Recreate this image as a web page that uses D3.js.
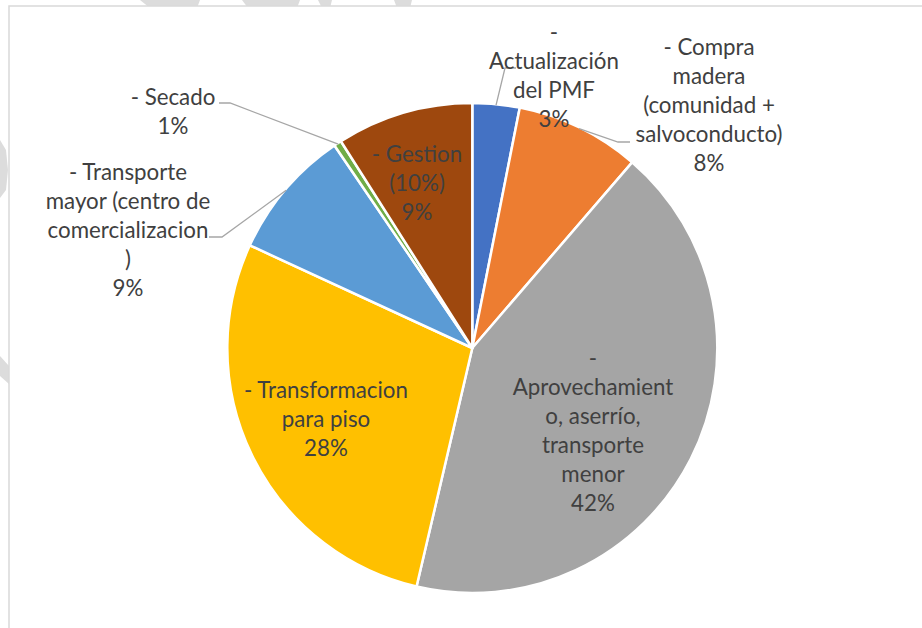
<!DOCTYPE html>
<html><head><meta charset="utf-8">
<script src="https://cdn.jsdelivr.net/npm/d3@7"></script>
<style>body{margin:0;background:#fff;} svg{display:block;}</style>
</head><body>
<svg id="c" width="922" height="628"></svg>
<script>
// ---- data ----
const categories = [
  "- Actualización del PMF",
  "- Compra madera (comunidad + salvoconducto)",
  "- Aprovechamiento, aserrío, transporte menor",
  "- Transformacion para piso",
  "- Transporte mayor (centro de comercializacion)",
  "- Secado",
  "- Gestion (10%)"
];
const values = [3.1, 8.2, 42.3, 28.2, 8.6, 0.5, 9.0];
const labelLines = [
  ["-", "Actualización", "del PMF"],
  ["- Compra", "madera", "(comunidad +", "salvoconducto)"],
  ["-", "Aprovechamient", "o, aserrío,", "transporte", "menor"],
  ["- Transformacion", "para piso"],
  ["- Transporte", "mayor (centro de", "comercializacion", ")"],
  ["- Secado"],
  ["- Gestion", "(10%)"]
];
const colors = ["#4472C4","#ED7D31","#A5A5A5","#FFC000","#5B9BD5","#70AD47","#9E480E"];

// ---- layout ----
const W = 922, H = 628;
const cx = 472.3, cy = 348, R = 245;
const lineH = 29;
// label block: [centre x, first baseline y]
const labelPos = [[554,39.7],[709,54.5],[593,365.7],[326,398],[128,180],[173,105],[417,162]];
// leader line bends/ends (start point computed from slice)
const leaderPts = [[[505,68],[516,68]], [[618,142],[630,142]], null, null, [[222,237],[209,237]], [[230,103],[219,103]], null];

const svg = d3.select("#c");

// faint background watermark outside the chart frame
const wm = svg.append("g").attr("fill", "#DCDCDC");
[[[140,0],[200,0],[197,8],[150,8]], [[242,0],[300,0],[297,8],[248,8]], [[318,0],[332,0],[330,8],[322,8]], [[394,0],[412,0],[410,8],[397,8]],
 [[0,140],[6,150],[8,170],[6,190],[0,198]], [[0,356],[9,366],[9,384],[0,376]]].forEach(p => {
  wm.append("path").attr("d", d3.line()(p) + "Z");
});

// chart frame
svg.append("rect").attr("x", 9).attr("y", 6).attr("width", W + 20).attr("height", H + 20)
  .attr("fill", "#fff").attr("stroke", "#D9D9D9").attr("stroke-width", 1.5);

const total = d3.sum(values);
const pie = d3.pie().sort(null).value(d => d);
const arcs = pie(values);
const arc = d3.arc().innerRadius(0).outerRadius(R);

const g = svg.append("g").attr("transform", `translate(${cx},${cy})`);
g.selectAll("path.slice").data(arcs).join("path")
  .attr("class", "slice")
  .attr("d", arc)
  .attr("fill", (d, i) => colors[i])
  .attr("stroke", "#fff").attr("stroke-width", 2.5).attr("stroke-linejoin", "round");

// leader lines
arcs.forEach((d, i) => {
  if (!leaderPts[i]) return;
  const a = (d.startAngle + d.endAngle) / 2;
  const r = R - 1;
  const start = [cx + r * Math.sin(a), cy - r * Math.cos(a)];
  svg.append("path")
    .attr("d", d3.line()([start, ...leaderPts[i]]))
    .attr("fill", "none").attr("stroke", "#A6A6A6").attr("stroke-width", 1.3);
});

// font calibration to Calibri-like widths
const fontFam = "Lato, 'Open Sans', sans-serif";
const probe = svg.append("text").attr("font-family", fontFam).attr("font-size", 24).text("salvoconducto)");
const pw = probe.node().getComputedTextLength();
probe.remove();
const fs = pw > 0 ? 24 * 147 / pw : 21.5;

// labels
arcs.forEach((d, i) => {
  const lines = labelLines[i].concat([Math.round(values[i] / total * 100) + "%"]);
  const t = svg.append("text")
    .attr("font-family", fontFam).attr("font-size", fs)
    .attr("fill", "#404040").attr("text-anchor", "middle");
  lines.forEach((ln, k) => {
    t.append("tspan").attr("x", labelPos[i][0]).attr("y", labelPos[i][1] + k * lineH).text(ln);
  });
});
</script>
</body></html>
